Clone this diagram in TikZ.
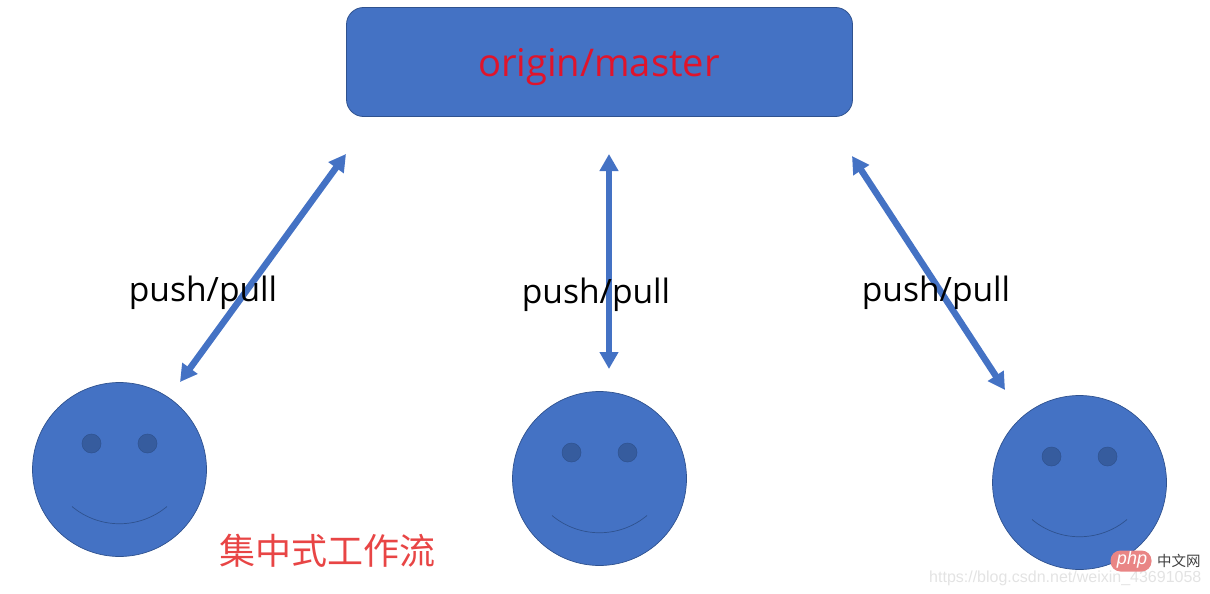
\documentclass[tikz,border=0pt]{standalone}
\usepackage{fontspec}
\setmainfont{Noto Sans CJK SC}
\newfontfamily\latinface{Open Sans}
\newfontfamily\cjkface{Noto Sans CJK SC}
\newfontfamily\wmface{Liberation Sans}
\usetikzlibrary{arrows.meta}
\definecolor{fillblue}{HTML}{4472C4}
\definecolor{edgeblue}{HTML}{2F528F}
\definecolor{eyeblue}{HTML}{365C9E}
\definecolor{redtext}{HTML}{E0142B}
\definecolor{cjkred}{HTML}{E84545}
\definecolor{pillred}{HTML}{E98585}
\tikzset{
  facecircle/.style={circle,draw=edgeblue,fill=fillblue,line width=0.7pt,minimum size=174pt,inner sep=0pt},
  eyedot/.style={circle,draw=edgeblue,fill=eyeblue,line width=0.5pt,minimum size=19pt,inner sep=0pt},
  smileline/.style={draw=edgeblue,line width=0.7pt},
  twoway/.style={draw=fillblue,line width=6.5pt,{Triangle[length=17pt,width=18pt]}-{Triangle[length=17pt,width=18pt]},shorten >=0pt,shorten <=0pt},
  pushlabel/.style={font=\fontsize{33.6}{34}\selectfont\latinface,text=black,inner sep=0pt},
}
\begin{document}
\begin{tikzpicture}[x=1pt,y=-1pt]
\useasboundingbox (0,0) rectangle (1210,594);
\node[draw=edgeblue,fill=fillblue,line width=0.8pt,rounded corners=17pt,minimum width=506pt,minimum height=109pt,inner sep=0pt] (origin) at (599.5,62) {};
\node[font=\fontsize{38.2}{39}\selectfont\latinface,text=redtext,inner sep=0pt,anchor=base] (originlabel) at (599,77) {origin/master};

\node[facecircle] (faceL) at (119.5,469.5) {};
\node[facecircle] (faceM) at (599.5,478.5) {};
\node[facecircle] (faceR) at (1079.5,482.5) {};

\foreach \f/\x/\y in {L/119.5/469.5,M/599.5/478.5,R/1079.5/482.5}{
  \node[eyedot] (eyeA\f) at (\x-28,\y-26) {};
  \node[eyedot] (eyeB\f) at (\x+28,\y-26) {};
  \draw[smileline] (\x-47.5,\y+37) .. controls (\x-20,\y+60) and (\x+20,\y+60) .. (\x+47.5,\y+37);
}

\coordinate (aLtop) at (346,154);
\coordinate (aLbot) at (180,382);
\coordinate (aMtop) at (609,154);
\coordinate (aMbot) at (609,369);
\coordinate (aRtop) at (852,156);
\coordinate (aRbot) at (1005,390);
\draw[twoway] (aLtop) -- (aLbot);
\draw[twoway] (aMtop) -- (aMbot);
\draw[twoway] (aRtop) -- (aRbot);

\node[pushlabel,anchor=base] (pushL) at (203,301) {push/pull};
\node[pushlabel,anchor=base] (pushM) at (596,303) {push/pull};
\node[pushlabel,anchor=base] (pushR) at (936,301) {push/pull};

\node[font=\fontsize{36}{36}\selectfont\cjkface,text=cjkred,inner sep=0pt,anchor=center] (title) at (327,551) {集中式工作流};

\node[font=\fontsize{16}{16}\selectfont\wmface,text=black!11,inner sep=0pt,anchor=base west] (wm) at (929,582) {https://blog.csdn.net/weixin\_43691058};
\node[fill=pillred,rounded corners=10pt,minimum width=41pt,minimum height=21pt,inner sep=0pt] (phppill) at (1131,561) {};
\node[font=\fontsize{18}{18}\selectfont\itshape\wmface,text=white,inner sep=0pt] (phptext) at (1132,560) {php};
\node[font=\fontsize{14.5}{15}\selectfont\cjkface,text=black!75,inner sep=0pt,anchor=west] (cntext) at (1157,561) {中文网};
\end{tikzpicture}
\end{document}
